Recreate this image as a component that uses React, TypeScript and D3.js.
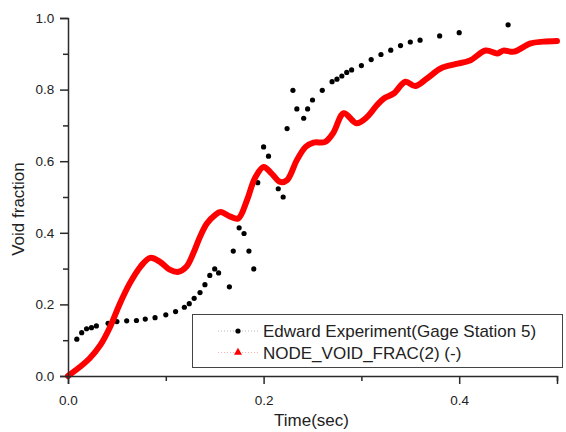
import { useEffect, useRef } from "react";
import * as d3 from "d3";

// Edward Experiment (Gage Station 5) - measured points
const expTime = [
  0.009, 0.014, 0.019, 0.024, 0.029, 0.041, 0.05, 0.06, 0.07, 0.079, 0.089, 0.1, 0.11, 0.119,
  0.124, 0.129, 0.135, 0.14, 0.145, 0.15, 0.154, 0.165, 0.169, 0.175, 0.18, 0.185, 0.19,
  0.194, 0.2, 0.205, 0.215, 0.22, 0.224, 0.23, 0.234, 0.241, 0.245, 0.25, 0.26, 0.27, 0.275,
  0.28, 0.285, 0.29, 0.3, 0.31, 0.32, 0.33, 0.34, 0.35, 0.36, 0.38, 0.4, 0.45,
];
const expVoid = [
  0.103, 0.121, 0.132, 0.135, 0.14, 0.147, 0.152, 0.154, 0.155, 0.159, 0.163, 0.171, 0.18,
  0.192, 0.202, 0.217, 0.233, 0.255, 0.281, 0.299, 0.288, 0.249, 0.349, 0.414, 0.398, 0.349,
  0.299, 0.54, 0.64, 0.614, 0.523, 0.5, 0.691, 0.798, 0.746, 0.72, 0.746, 0.771, 0.798,
  0.822, 0.829, 0.838, 0.848, 0.855, 0.867, 0.884, 0.898, 0.91, 0.923, 0.933, 0.938, 0.95,
  0.959, 0.981,
];

// NODE_VOID_FRAC(2) (-) - simulation
const simTime = [
  0, 0.012, 0.022, 0.033, 0.043, 0.053, 0.063, 0.074, 0.084, 0.094, 0.104, 0.113, 0.121,
  0.128, 0.135, 0.142, 0.15, 0.156, 0.166, 0.174, 0.183, 0.191, 0.2, 0.208, 0.217, 0.224,
  0.234, 0.243, 0.251, 0.263, 0.271, 0.282, 0.295, 0.306, 0.316, 0.323, 0.333, 0.345,
  0.355, 0.367, 0.381, 0.396, 0.411, 0.427, 0.439, 0.445, 0.456, 0.473, 0.486, 0.5,
];
const simVoid = [
  0, 0.025, 0.049, 0.086, 0.137, 0.202, 0.258, 0.305, 0.33, 0.319, 0.297, 0.291, 0.305,
  0.342, 0.389, 0.426, 0.449, 0.458, 0.445, 0.44, 0.491, 0.552, 0.584, 0.566, 0.542, 0.547,
  0.603, 0.64, 0.652, 0.654, 0.678, 0.734, 0.706, 0.724, 0.757, 0.775, 0.789, 0.822, 0.81,
  0.831, 0.859, 0.871, 0.881, 0.909, 0.901, 0.909, 0.906, 0.929, 0.934, 0.936,
];

const xTicks = [0, 0.2, 0.4];
const yTicks = [0, 0.2, 0.4, 0.6, 0.8, 1.0];
const legendLabels = ["Edward Experiment(Gage Station 5)", "NODE_VOID_FRAC(2) (-)"];

const W = 566,
  H = 432;
const margin = { left: 68, top: 18, right: 9, bottom: 56 };
const axisColor = "#2a2a2a";
const font = "Arial, 'Liberation Sans', sans-serif";

export default function App() {
  const svgRef = useRef<SVGSVGElement>(null);

  useEffect(() => {
    const svg = d3.select(svgRef.current);
    svg.selectAll("*").remove();

    const x = d3.scaleLinear().domain([0, 0.5]).range([margin.left, W - margin.right]);
    const y = d3.scaleLinear().domain([0, 1]).range([H - margin.bottom, margin.top]);

    const expData = expTime.map((t, i) => ({ t, v: expVoid[i] }));
    const simData = simTime.map((t, i) => ({ t, v: simVoid[i] }));

    // experiment dots
    svg.append("g")
      .selectAll("circle")
      .data(expData)
      .enter()
      .append("circle")
      .attr("cx", (d) => x(d.t))
      .attr("cy", (d) => y(d.v))
      .attr("r", 2.6)
      .attr("fill", "#000");

    // simulation line
    const line = d3
      .line<{ t: number; v: number }>()
      .x((d) => x(d.t))
      .y((d) => y(d.v))
      .curve(d3.curveCatmullRom.alpha(0.5));
    svg.append("path")
      .attr("d", line(simData) as string)
      .attr("fill", "none")
      .attr("stroke", "#ff0000")
      .attr("stroke-width", 6)
      .attr("stroke-linejoin", "round")
      .attr("stroke-linecap", "round");

    // x axis
    const xAxis = svg.append("g").attr("transform", `translate(0, ${y(0)})`);
    xAxis.call(
      d3.axisBottom(x).tickValues(xTicks).tickSize(8).tickFormat(d3.format(".1f"))
    );
    xAxis.append("g")
      .selectAll("line")
      .data([0.1, 0.3, 0.5])
      .enter()
      .append("line")
      .attr("x1", (d) => x(d) + 0.5)
      .attr("x2", (d) => x(d) + 0.5)
      .attr("y1", 0)
      .attr("y2", 5)
      .attr("stroke", axisColor)
      .attr("stroke-width", 1.5);

    // y axis
    const yAxis = svg.append("g").attr("transform", `translate(${x(0)}, 0)`);
    yAxis.call(
      d3.axisLeft(y).tickValues(yTicks).tickSize(8).tickFormat(d3.format(".1f"))
    );
    yAxis.append("g")
      .selectAll("line")
      .data([0.1, 0.3, 0.5, 0.7, 0.9])
      .enter()
      .append("line")
      .attr("x1", 0)
      .attr("x2", -5)
      .attr("y1", (d) => y(d) + 0.5)
      .attr("y2", (d) => y(d) + 0.5)
      .attr("stroke", axisColor)
      .attr("stroke-width", 1.5);

    svg.selectAll(".domain").attr("stroke", axisColor).attr("stroke-width", 1.5);
    svg.selectAll(".tick line").attr("stroke", axisColor).attr("stroke-width", 1.5);
    svg.selectAll(".tick text")
      .attr("fill", "#222")
      .attr("font-family", font)
      .attr("font-size", 13.5);
    xAxis.selectAll(".tick text").attr("dy", "1.3em");
    yAxis.selectAll(".tick text").attr("dx", "-0.2em");

    // axis titles
    svg.append("text")
      .attr("x", (x(0) + x(0.5)) / 2 - 1)
      .attr("y", 426)
      .attr("text-anchor", "middle")
      .attr("font-family", font)
      .attr("font-size", 17)
      .attr("fill", "#222")
      .text("Time(sec)");
    svg.append("text")
      .attr("transform", `translate(24, ${(y(0) + y(1)) / 2 + 12}) rotate(-90)`)
      .attr("text-anchor", "middle")
      .attr("font-family", font)
      .attr("font-size", 17)
      .attr("fill", "#222")
      .text("Void fraction");

    // legend
    const lg = svg.append("g");
    lg.append("rect")
      .attr("x", 192.5)
      .attr("y", 314.5)
      .attr("width", 370)
      .attr("height", 53)
      .attr("fill", "#fff")
      .attr("stroke", "#444")
      .attr("stroke-width", 1);
    const rows = lg
      .selectAll("g.row")
      .data(legendLabels)
      .enter()
      .append("g")
      .attr("class", "row")
      .attr("transform", (_d, i) => `translate(0, ${331 + i * 21.5})`);
    rows.append("line")
      .attr("x1", 218)
      .attr("x2", 258)
      .attr("stroke", (_d, i) => (i === 0 ? "#bbb" : "#f5b5b5"))
      .attr("stroke-width", 1)
      .attr("stroke-dasharray", "1,2");
    rows.filter((_d, i) => i === 0)
      .append("circle")
      .attr("cx", 238)
      .attr("r", 2.6)
      .attr("fill", "#000");
    rows.filter((_d, i) => i === 1)
      .append("path")
      .attr("d", d3.symbol(d3.symbolTriangle, 28)() as string)
      .attr("transform", "translate(238, 0)")
      .attr("fill", "#ff0000");
    rows.append("text")
      .attr("x", 263)
      .attr("dy", "0.36em")
      .attr("font-family", font)
      .attr("font-size", 17)
      .attr("fill", "#222")
      .text((d) => d);
  }, []);

  return (
    <svg
      ref={svgRef}
      width={W}
      height={H}
      style={{ position: "absolute", left: 0, top: 0, background: "#fff" }}
    />
  );
}
